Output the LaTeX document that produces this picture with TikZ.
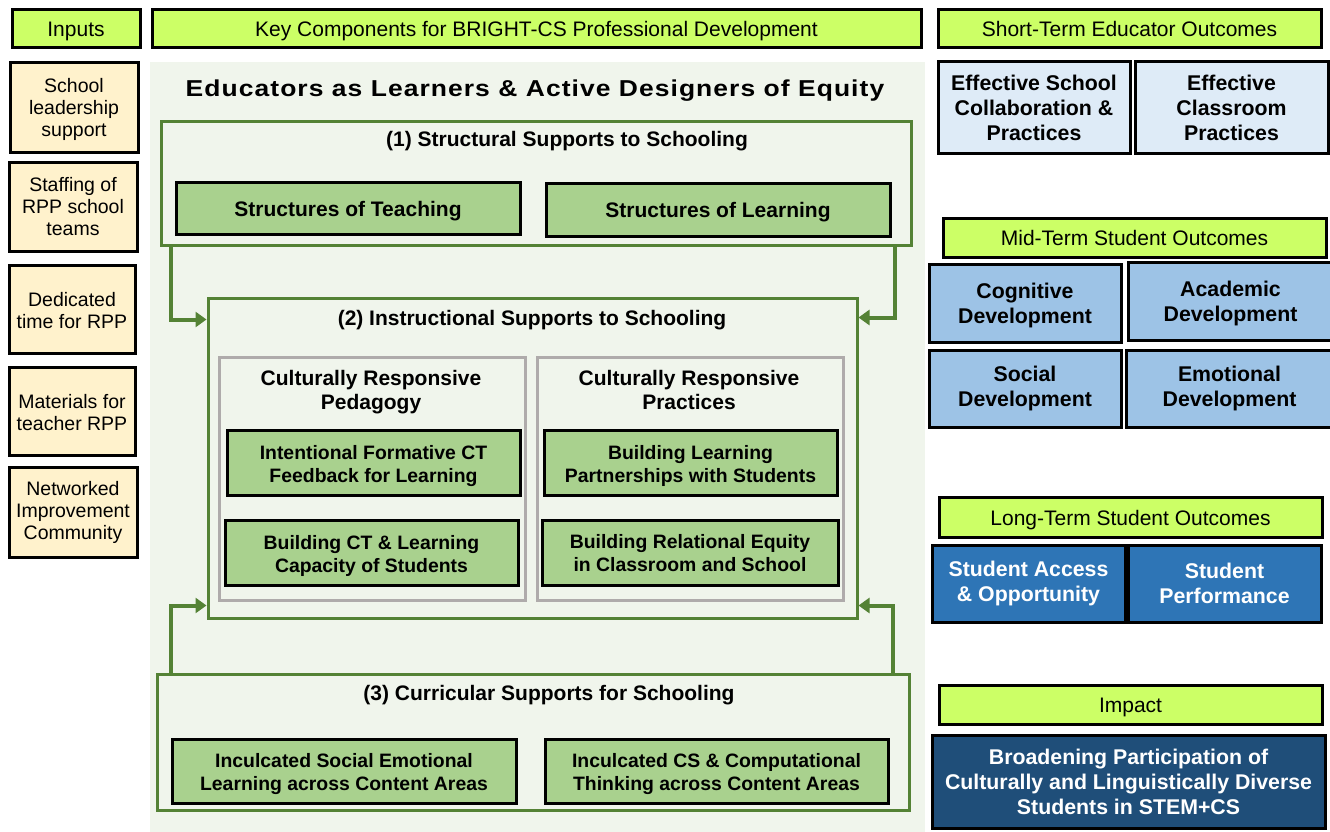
\documentclass[tikz,border=0pt]{standalone}
\usepackage{fontspec}
\setmainfont{Liberation Sans}
\usetikzlibrary{arrows.meta,calc}

\definecolor{lime}{HTML}{CCFF66}
\definecolor{cream}{HTML}{FFF2CC}
\definecolor{panel}{HTML}{F0F5EC}
\definecolor{leaf}{HTML}{548235}
\definecolor{sage}{HTML}{A9D18E}
\definecolor{stone}{HTML}{AFABAB}
\definecolor{paleblue}{HTML}{DEEBF7}
\definecolor{midblue}{HTML}{9DC3E6}
\definecolor{deepblue}{HTML}{2E75B6}
\definecolor{navy}{HTML}{1F4E79}

% tall invisible strut on the first line pushes multi-line text a little lower
\newcommand\firststrut[1]{\rule{0pt}{#1}}
\newcommand\inlow{\firststrut{18pt}}
\newcommand\complow{\firststrut{21pt}}

\tikzset{
  box/.style={draw=black, line width=3pt, inner sep=0pt, align=center},
  hdr/.style={box, fill=lime, font=\fontsize{21}{25}\selectfont,
              text height=16pt, text depth=0pt},
  inbox/.style={box, fill=cream, font=\fontsize{19.5}{22}\selectfont},
  comp/.style={box, fill=sage, font=\fontsize{19.4}{23}\selectfont\bfseries},
  bigcomp/.style={box, fill=sage, font=\fontsize{21}{25}\selectfont\bfseries,
                  text height=16pt, text depth=0pt},
  frame/.style={draw=leaf, line width=3pt, fill=panel, inner sep=0pt},
  group/.style={draw=stone, line width=3pt, fill=panel, inner sep=0pt},
  outc/.style={box, font=\fontsize{21.3}{25}\selectfont\bfseries},
  ttl/.style={inner sep=0pt, align=center, font=\fontsize{21}{24}\selectfont\bfseries},
  flow/.style={draw=leaf, line width=4pt, -{Triangle[length=11pt,width=15pt]}},
}

\begin{document}
\begin{tikzpicture}[x=1pt,y=-1pt]
\useasboundingbox (0,0) rectangle (1330,832);
\fill[white] (0,0) rectangle (1330,832);

% column headers
\node[hdr, minimum width=128pt, minimum height=38pt] (inhdr) at (76,29) {Inputs};
\node[hdr, minimum width=769pt, minimum height=38pt] (kchdr) at (536.5,29) {Key Components for BRIGHT-CS Professional Development};
\node[hdr, minimum width=383pt, minimum height=38pt] (sthdr) at (1129.5,29) {Short-Term Educator Outcomes};

% inputs
\node[inbox, minimum width=128pt, minimum height=89pt] (in1) at (74,107.5) {\inlow School\\leadership\\support};
\node[inbox, minimum width=128pt, minimum height=89pt] (in2) at (73,206.5) {Staffing of\\RPP school\\teams};
\node[inbox, minimum width=126pt, minimum height=88pt] (in3) at (72,309) {\inlow Dedicated\\time for RPP};
\node[inbox, minimum width=126pt, minimum height=88pt] (in4) at (72,411) {\inlow Materials for\\teacher RPP};
\node[inbox, minimum width=128pt, minimum height=90pt] (in5) at (73,512) {Networked\\Improvement\\Community};

% key components panel
\fill[panel] (150,62) rectangle (925,832);
\node[inner sep=0pt, font=\fontsize{23}{28}\selectfont\bfseries] (title) at (535,91)
  {\scalebox{1.15}[1]{\addfontfeature{LetterSpace=4}Educators as Learners \& Active Designers of Equity}};

% (1) structural supports
\node[frame, minimum width=750pt, minimum height=123pt] (b1) at (536,183.5) {};
\node[ttl] (b1t) at (567,141) {(1) Structural Supports to Schooling};
\node[bigcomp, minimum width=344pt, minimum height=52pt] (st1) at (348,208) {Structures of Teaching};
\node[bigcomp, minimum width=344pt, minimum height=53pt] (st2) at (718,209.5) {Structures of Learning};

% (2) instructional supports
\node[frame, minimum width=649pt, minimum height=320pt] (b2) at (532.5,458) {};
\node[ttl] (b2t) at (532,320) {(2) Instructional Supports to Schooling};
\node[group, minimum width=306pt, minimum height=243pt] (g1) at (372,478.5) {};
\node[group, minimum width=306pt, minimum height=243pt] (g2) at (690,478.5) {};
\node[ttl] (g1t) at (371,392) {Culturally Responsive\\Pedagogy};
\node[ttl] (g2t) at (689,390) {Culturally Responsive\\Practices};
\node[comp, minimum width=293pt, minimum height=65pt] (p1) at (373.5,462.5) {\complow Intentional Formative CT\\Feedback for Learning};
\node[comp, minimum width=293pt, minimum height=65pt] (p2) at (371.5,552.5) {\complow Building CT \& Learning\\Capacity of Students};
\node[comp, minimum width=293pt, minimum height=65pt] (q1) at (690.5,462.5) {\complow Building Learning\\Partnerships with Students};
\node[comp, minimum width=296pt, minimum height=65pt] (q2) at (690,552.5) {\firststrut{16pt}Building Relational Equity\\in Classroom and School};

% (3) curricular supports
\node[frame, minimum width=752pt, minimum height=136pt] (b3) at (533,742) {};
\node[ttl] (b3t) at (549,695) {(3) Curricular Supports for Schooling};
\node[comp, minimum width=344pt, minimum height=64pt] (c1) at (344,771) {\complow Inculcated Social Emotional\\Learning across Content Areas};
\node[comp, minimum width=343pt, minimum height=64pt] (c2) at (716.5,771) {\complow Inculcated CS \& Computational\\Thinking across Content Areas};

% supports feeding into instruction
\draw[flow] ($(b1.south west)+(11,0)$) |- ($(b2.north west)+(0,23)$);
\draw[flow] ($(b1.south east)+(-18,0)$) |- ($(b2.north east)+(0,21)$);
\draw[flow] ($(b3.north west)+(15,0)$) |- ($(b2.south west)+(0,-14)$);
\draw[flow] ($(b3.north east)+(-18,0)$) |- ($(b2.south east)+(0,-14)$);

% short-term educator outcomes
\node[outc, fill=paleblue, minimum width=192pt, minimum height=91pt] (s1) at (1034,107.5) {Effective School\\Collaboration \&\\Practices};
\node[outc, fill=paleblue, minimum width=193pt, minimum height=91pt] (s2) at (1231.5,107.5) {Effective\\Classroom\\Practices};

% mid-term student outcomes
\node[hdr, minimum width=383pt, minimum height=39pt] (mthdr) at (1134.5,237.5) {Mid-Term Student Outcomes};
\node[outc, fill=midblue, minimum width=192pt, minimum height=78pt] (m1) at (1025,303) {\firststrut{21pt}Cognitive\\Development};
\node[outc, fill=midblue, minimum width=205pt, minimum height=78pt] (m2) at (1230.5,301) {\firststrut{21pt}Academic\\Development};
\node[outc, fill=midblue, minimum width=192pt, minimum height=77pt] (m3) at (1025,388.5) {Social\\Development};
\node[outc, fill=midblue, minimum width=207pt, minimum height=77pt] (m4) at (1229.5,388.5) {Emotional\\Development};

% long-term student outcomes
\node[hdr, minimum width=383pt, minimum height=40pt] (lthdr) at (1130.5,517) {Long-Term Student Outcomes};
\node[outc, fill=deepblue, text=white, minimum width=193pt, minimum height=77pt] (l1) at (1028.5,583.5) {Student Access\\\& Opportunity};
\node[outc, fill=deepblue, text=white, minimum width=193pt, minimum height=77pt] (l2) at (1224.5,583.5) {Student\\Performance};

% impact
\node[hdr, minimum width=383pt, minimum height=39pt] (imhdr) at (1130.5,704.5) {Impact};
\node[outc, fill=navy, text=white, minimum width=393pt, minimum height=93pt] (im) at (1128.5,781.5) {Broadening Participation of\\Culturally and Linguistically Diverse\\Students in STEM+CS};
\end{tikzpicture}
\end{document}
